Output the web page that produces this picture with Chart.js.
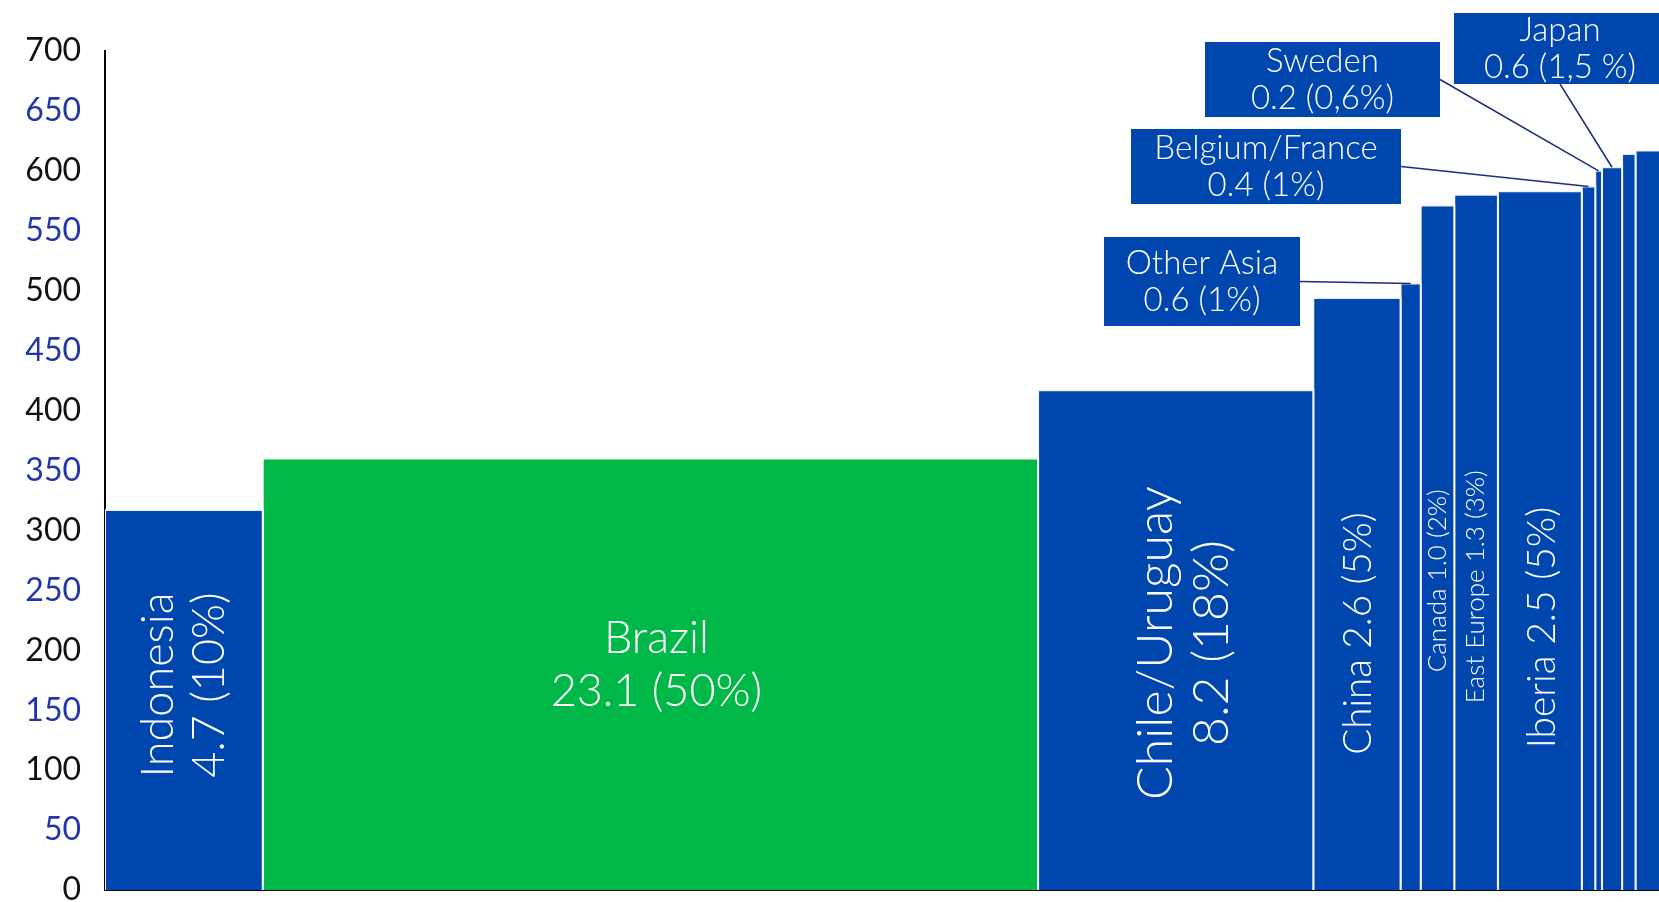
<!DOCTYPE html>
<html>
<head>
<meta charset="utf-8">
<title>Cash cost curve</title>
<script src="https://cdn.jsdelivr.net/npm/chart.js@4.4.1/dist/chart.umd.min.js"></script>
<style>
    html, body { margin: 0; padding: 0; background: #fff; }
    #wrap { width: 1659px; height: 902px; position: relative; overflow: hidden; }
</style>
</head>
<body>
<div id="wrap"><canvas id="costCurve"></canvas></div>
<script>
// Producers, cheapest first
const regions = ['Indonesia', 'Brazil', 'Chile/Uruguay', 'China', 'Other Asia', 'Canada',
    'East Europe', 'Iberia', 'Belgium/France', 'Sweden', 'Japan', '', ''];
// Capacity (bar width)
const volumes = [4.7, 23.1, 8.2, 2.6, 0.6, 1.0, 1.3, 2.5, 0.4, 0.2, 0.6, 0.4, 1.0];
// Cost (bar height)
const costs = [317, 360, 417, 494, 506, 571, 580, 583, 587, 600, 603, 614, 617];
// Share of total capacity, as printed
const shares = ['10%', '50%', '18%', '5%', '1%', '2%', '3%', '5%', '1%', '0,6%', '1,5 %', '', ''];

const yMax = 700;
const yStep = 50;
const xMax = 46.3;

const BLUE = '#0046AF';
const GREEN = '#00B847';
const TICK_BLUE = '#2236AA';
const LEADER = '#1C2D7C';
const FONT = 'Lato, "Open Sans", sans-serif';

// How each bar gets labelled
const labelStyle = {
    'Indonesia':      { mode: 'vertical', size: 45, gap: 51, y: 171, dx: 0 },
    'Brazil':         { mode: 'flat', size: 45, gap: 53, y: 188, dx: 6 },
    'Chile/Uruguay':  { mode: 'vertical', size: 50, gap: 56, y: 206, dx: 8 },
    'China':          { mode: 'vertical', size: 38.5, y: 214, dx: 2, single: true },
    'Canada':         { mode: 'vertical', size: 26, y: 258, dx: 0, single: true },
    'East Europe':    { mode: 'vertical', size: 26, y: 253, dx: 0, single: true },
    'Iberia':         { mode: 'vertical', size: 39, y: 219, dx: 3, single: true },
    'Other Asia':     { mode: 'callout', box: [1104, 237, 196, 89], from: 'right' },
    'Belgium/France': { mode: 'callout', box: [1131, 129, 270, 75], from: 'right' },
    'Sweden':         { mode: 'callout', box: [1205, 42, 235, 75], from: 'right' },
    'Japan':          { mode: 'callout', box: [1454, 13, 212, 71], from: 'bottom' }
};

// Left edge of each bar
const starts = [];
volumes.reduce((acc, v) => { starts.push(acc); return acc + v; }, 0);

function valueText(i) {
    return volumes[i].toFixed(1) + ' (' + shares[i] + ')';
}

// One filled outline per bar so each one keeps its own width
const datasets = regions.map((name, i) => {
    const x0 = starts[i];
    const x1 = starts[i] + volumes[i];
    return {
        label: name,
        data: [
            { x: x0, y: 0 },
            { x: x0, y: costs[i] },
            { x: x1, y: costs[i] },
            { x: x1, y: 0 }
        ],
        showLine: true,
        fill: 'origin',
        backgroundColor: name === 'Brazil' ? GREEN : BLUE,
        borderColor: 'rgba(255,255,255,0.9)',
        borderWidth: 2,
        pointRadius: 0,
        tension: 0
    };
});

function drawLines(ctx, lines, gap) {
    const off = (lines.length - 1) / 2;
    lines.forEach((t, k) => ctx.fillText(t, 0, (k - off) * gap));
}

const barLabels = {
    id: 'barLabels',
    afterDatasetsDraw(chart) {
        const ctx = chart.ctx;
        const xs = chart.scales.x;
        const ys = chart.scales.y;
        ctx.save();
        ctx.textAlign = 'center';
        ctx.textBaseline = 'middle';
        regions.forEach((name, i) => {
            const st = labelStyle[name];
            if (!st) return;
            const cx = xs.getPixelForValue(starts[i] + volumes[i] / 2);
            const top = ys.getPixelForValue(costs[i]);

            if (st.mode === 'callout') {
                const [bx, by, bw, bh] = st.box;
                // leader line from box edge to the top of the bar
                const from = st.from === 'right'
                    ? { x: bx + bw, y: by + bh / 2 }
                    : { x: bx + bw / 2, y: by + bh };
                ctx.strokeStyle = LEADER;
                ctx.lineWidth = 1.5;
                ctx.beginPath();
                ctx.moveTo(from.x, from.y);
                ctx.lineTo(cx, top);
                ctx.stroke();

                ctx.fillStyle = BLUE;
                ctx.fillRect(bx, by, bw, bh);
                ctx.fillStyle = '#fff';
                ctx.font = '300 33px ' + FONT;
                ctx.save();
                ctx.translate(bx + bw / 2, by + bh / 2);
                drawLines(ctx, [name, valueText(i)], 37);
                ctx.restore();
                return;
            }

            const lines = st.single ? [name + ' ' + valueText(i)] : [name, valueText(i)];
            ctx.fillStyle = '#fff';
            ctx.font = '300 ' + st.size + 'px ' + FONT;
            ctx.save();
            ctx.translate(cx + st.dx, ys.getPixelForValue(st.y));
            if (st.mode === 'vertical') ctx.rotate(-Math.PI / 2);
            drawLines(ctx, lines, st.gap || 0);
            ctx.restore();
        });
        ctx.restore();
    }
};

new Chart(document.getElementById('costCurve'), {
    type: 'scatter',
    data: { datasets },
    options: {
        responsive: true,
        maintainAspectRatio: false,
        animation: false,
        layout: { padding: { top: 51, left: 0, right: 0, bottom: 0 } },
        plugins: {
            legend: { display: false },
            tooltip: { enabled: false }
        },
        scales: {
            x: {
                type: 'linear',
                min: 0,
                max: xMax,
                z: 1,
                grid: { display: false, drawTicks: false },
                border: { display: true, color: '#000', width: 2 },
                ticks: { display: false },
                afterFit: (scale) => { scale.height = 12; }
            },
            y: {
                min: 0,
                max: yMax,
                z: 1,
                grid: { display: false, drawTicks: false },
                border: { display: true, color: '#000', width: 2 },
                ticks: {
                    stepSize: yStep,
                    padding: 24,
                    font: { family: FONT, size: 32 },
                    color: (c) => c.tick.value % 100 === 0 ? '#111' : TICK_BLUE
                },
                afterFit: (scale) => {
                    scale.width = 105;
                    scale.paddingTop = 0;
                    scale.paddingBottom = 0;
                }
            }
        }
    },
    plugins: [barLabels]
});
</script>
</body>
</html>
